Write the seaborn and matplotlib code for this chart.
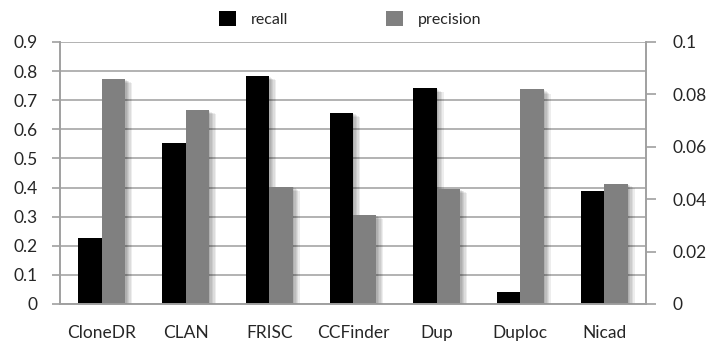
import matplotlib
matplotlib.use("Agg")
import matplotlib.pyplot as plt
import matplotlib.patheffects as pe
from matplotlib.patches import Patch
import seaborn as sns
import pandas as pd

tools = ["CloneDR", "CLAN", "FRISC", "CCFinder", "Dup", "Duploc", "Nicad"]
recall = [0.228, 0.554, 0.783, 0.657, 0.741, 0.040, 0.389]
precision = [0.0859, 0.0740, 0.0448, 0.0340, 0.0439, 0.0819, 0.0459]
left_ticks = [0, 0.1, 0.2, 0.3, 0.4, 0.5, 0.6, 0.7, 0.8, 0.9]
right_ticks = [0, 0.02, 0.04, 0.06, 0.08, 0.1]
series = ["recall", "precision"]
colors = {"recall": "#000000", "precision": "#808080"}

sns.set_style("white")
plt.rcParams["font.family"] = ["Lato", "DejaVu Sans"]
FS = 12.5

df_r = pd.DataFrame({"tool": tools, "value": recall, "series": "recall"})
df_p = pd.DataFrame({"tool": tools, "value": precision, "series": "precision"})

fig = plt.figure(figsize=(7.07, 3.45), dpi=100)
ax = fig.add_axes([60 / 707, 1 - 304 / 345, (646 - 60) / 707, (304 - 42) / 345])
ax2 = ax.twinx()

sns.barplot(data=df_r, x="tool", y="value", hue="series", hue_order=series,
            order=tools, palette=colors, width=0.56, dodge=True, ax=ax,
            legend=False, saturation=1, errorbar=None)
sns.barplot(data=df_p, x="tool", y="value", hue="series", hue_order=series,
            order=tools, palette=colors, width=0.56, dodge=True, ax=ax2,
            legend=False, saturation=1, errorbar=None)

shadow = [pe.SimplePatchShadow(offset=(k, -0.6 * k), shadow_rgbFace="#000000", alpha=0.07)
          for k in (1, 2, 3, 4, 5)] + [pe.Normal()]
for a in (ax, ax2):
    for p in a.patches:
        p.set_path_effects(shadow)
        p.set_linewidth(0)

ax.set_ylim(0, 0.9)
ax2.set_ylim(0, 0.1)
ax.set_xlim(-0.5, 6.5)
ax.set_yticks(left_ticks)
ax.set_yticklabels([f"{t:g}" for t in left_ticks])
ax2.set_yticks(right_ticks)
ax2.set_yticklabels([f"{t:g}" for t in right_ticks])

ax.set_axisbelow(True)
ax.yaxis.grid(True, color="#a6a6a6", linewidth=1.2)
ax.xaxis.grid(False)
ax2.grid(False)
ax2.patch.set_visible(False)

for a in (ax, ax2):
    a.set_xlabel("")
    a.set_ylabel("")
    a.spines["top"].set_visible(False)
    for s in ("left", "right", "bottom"):
        a.spines[s].set_color("#a0a0a0")
        a.spines[s].set_linewidth(1.2)

ax.set_xticks(range(len(tools)))
ax.set_xticklabels(tools)
ax.set_xticks([i - 0.5 for i in range(len(tools) + 1)], minor=True)
ax.tick_params(axis="x", which="major", length=0, pad=15, labelsize=FS)
ax.tick_params(axis="x", which="minor", length=6, color="#a0a0a0", width=1.2, direction="out")
ax.tick_params(axis="y", length=6, color="#a0a0a0", width=1.2, direction="out", pad=10, labelsize=FS)
ax2.tick_params(axis="y", length=7, color="#a0a0a0", width=1.2, direction="out", pad=12, labelsize=FS)

handles = [Patch(facecolor=colors[s], edgecolor="none", label=s) for s in series]
fig.legend(handles=handles, loc="center", bbox_to_anchor=(350 / 707, 1 - 19 / 345),
           ncol=2, frameon=False, fontsize=FS - 1, handlelength=1.1, handleheight=1.1,
           columnspacing=6.1, handletextpad=0.9)

fig.savefig("out.png", dpi=100)
